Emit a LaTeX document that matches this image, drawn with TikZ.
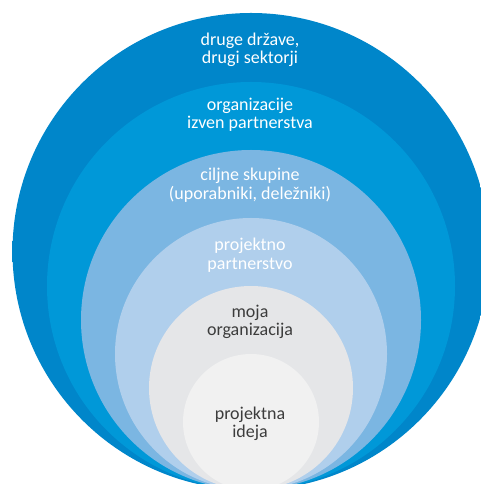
\documentclass[tikz,border=0pt]{standalone}
\usepackage{fontspec}
\setmainfont{Carlito}
\usepackage{tikz}
\definecolor{ringsix}{RGB}{0,134,202}
\definecolor{ringsixdark}{RGB}{0,78,122}
\definecolor{ringfive}{RGB}{0,152,216}
\definecolor{ringfour}{RGB}{123,182,226}
\definecolor{ringthree}{RGB}{176,207,236}
\definecolor{ringtwo}{RGB}{229,230,232}
\definecolor{ringone}{RGB}{241,241,241}
\definecolor{darktext}{RGB}{60,60,60}
\pgfdeclareradialshading{rimglow}{\pgfpoint{0bp}{0bp}}{%
  color(0bp)=(ringsix); color(40bp)=(ringsix); color(50bp)=(ringsixdark)}

\begin{document}
\begin{tikzpicture}[
    x=1pt, y=1pt,
    ring/.style={circle, inner sep=0pt, minimum size=#1},
    label/.style={font=\fontsize{18}{18.5}\selectfont, align=center, text=white},
    darklabel/.style={label, text=darktext}
]
    \useasboundingbox (0,0) rectangle (481,484);
    \clip (0,0) rectangle (481,484);

    % nested circles, all touching at the bottom
    \node[ring=477, shading=rimglow] (others) at (251,232.5) {};
    \node[ring=408, fill=ringfive] (outside) at (251,198) {};
    \node[ring=340, fill=ringfour] (target) at (251,164) {};
    \node[ring=272, fill=ringthree] (partners) at (251,130) {};
    \node[ring=204, fill=ringtwo] (myorg) at (251,96) {};
    \node[ring=136, fill=ringone] (idea) at (251,62) {};

    % labels
    \node[label] (otherslbl) at (250,434) {druge države,\\drugi sektorji};
    \node[label] (outsidelbl) at (250,369) {organizacije\\izven partnerstva};
    \node[label] (targetlbl) at (250,299) {ciljne skupine\\(uporabniki, deležniki)};
    \node[label] (partnerslbl) at (250,229) {projektno\\partnerstvo};
    \node[darklabel] (myorglbl) at (250,162) {moja\\organizacija};
    \node[darklabel] (idealbl) at (250,60) {projektna\\ideja};
\end{tikzpicture}
\end{document}
